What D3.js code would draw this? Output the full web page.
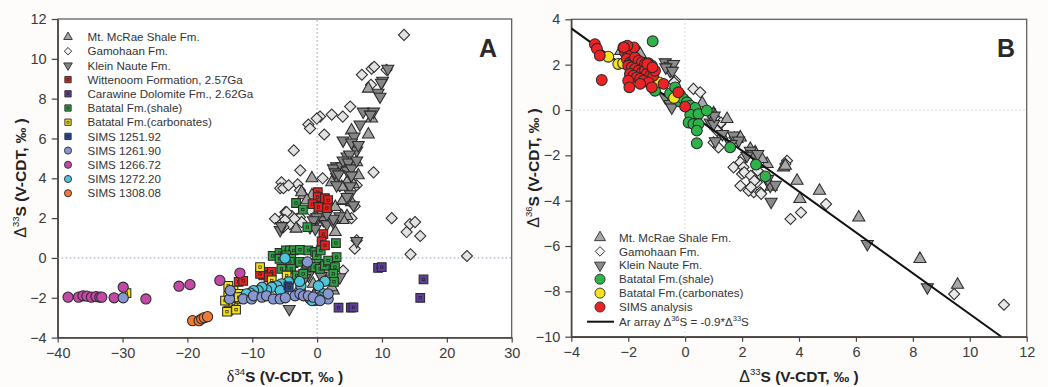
<!DOCTYPE html>
<html>
<head>
<meta charset="utf-8">
<script src="https://cdn.jsdelivr.net/npm/d3@7"></script>
<style>
  html, body { margin: 0; padding: 0; background: #fff; }
  svg { display: block; }
</style>
</head>
<body>
<svg id="chart" width="1048" height="387"></svg>
<script>
// ---------- Panel A: Δ33S vs δ34S ----------
const mcraeA = [[7.9,8.5],[8.4,7.0],[5.3,6.4],[7.9,6.2],[4.3,4.8],[4.8,4.9],[6.1,4.8],[-0.8,4.0],[4.6,3.8],[5.6,3.7],[-2.1,3.15],[-2.4,3.3],[-0.8,3.15],[-1.6,2.9],[2.8,2.56],[4.0,2.86],[-3.25,1.47],[3.8,2.1],[2.8,1.3],[6.35,4.15],[4.6,2.1],[4.0,1.9],[2.25,3.8],[3.8,3.57],[5.3,2.8],[4.0,2.9],[-0.6,-1.3],[0.2,-1.47],[-2.65,-1.47],[2.5,-1.64],[2.25,-1.47],[-0.5,-1.9],[1.0,-1.0],[-3.9,-0.3],[-2.0,-0.6],[1.5,-0.7]];
const kleinA = [[10.9,9.5],[10.1,8.9],[9.9,8.8],[9.4,8.3],[9.7,8.1],[7.1,7.35],[8.7,7.35],[8.2,7.2],[6.6,6.7],[5.7,6.1],[4.0,5.9],[5.8,5.6],[6.1,5.4],[4.6,5.1],[5.0,5.2],[3.0,4.6],[2.5,4.5],[3.8,4.6],[4.6,4.4],[3.0,4.07],[5.1,3.6],[5.3,5.8],[6.35,5.67],[4.0,4.9],[4.8,4.8],[5.3,4.5],[6.1,4.9],[2.75,4.3],[3.3,4.2],[5.3,4.15],[3.0,3.65],[5.1,3.2],[4.6,3.06],[5.6,2.65],[-0.06,1.9],[0.45,2.1],[0.96,1.9],[1.5,1.7],[2.5,1.8],[6.1,0.85],[3.5,2.1],[2.5,1.97],[1.5,2.2],[0.45,2.4],[-0.06,2.05],[-0.6,1.9],[-1.1,1.55],[-0.3,1.47],[-5.7,1.4],[-5.5,1.6],[-4.3,-2.56],[-1.35,-0.88],[3.5,-0.97],[-1.9,-1.0],[0.6,-0.9],[2.0,-0.3]];
const gamohaanA = [[13.4,11.2],[8.4,9.5],[6.9,9.2],[8.8,9.6],[10.7,9.45],[8.3,8.7],[5.1,7.6],[2.25,7.2],[3.95,7.1],[0.45,7.1],[-0.06,7.0],[-1.35,6.7],[-1.1,6.5],[1.1,6.2],[-3.6,5.4],[8.7,4.3],[-2.6,4.4],[0.85,4.0],[-5.5,3.8],[-5.7,3.5],[-5.2,3.5],[-3.0,3.7],[-2.65,3.4],[3.5,3.6],[6.1,3.65],[-4.4,3.65],[-1.1,2.4],[-4.9,2.3],[-3.9,2.1],[-5.5,1.9],[-4.2,1.7],[-3.1,1.97],[5.3,2.0],[5.8,2.6],[11.5,2.0],[14.3,1.7],[15.1,1.8],[13.8,1.3],[15.9,1.1],[5.8,0.46],[14.4,0.18],[23.1,0.1],[-2.65,2.05],[-2.4,1.8],[-3.5,1.97],[-4.7,2.3],[-4.95,1.9],[-5.2,1.55],[-6.5,1.97],[6.1,0.88],[4.0,-0.63]];
const wittenoomA = [[0.1,3.3],[0.1,3.06],[1.2,3.0],[1.7,2.9],[-0.7,2.7],[1.5,2.5],[0.2,2.56],[0.96,1.2],[0.7,0.83],[1.2,0.63],[-7.8,-0.7],[-8.3,-0.88],[-7.0,-0.7],[-7.5,-0.97],[-12.1,-1.2],[-11.4,-1.15],[-8.8,-0.8]];
const carawineA = [[9.4,-0.5],[9.96,-0.46],[16.4,-1.08],[15.9,-2.0],[3.3,-2.5],[5.2,-2.5],[5.6,-2.48]];
const batatalShaleA = [[-3.25,2.76],[-2.2,2.43],[-1.5,1.55],[2.9,0.75],[3.0,0.04],[-6.85,0.1],[-5.8,0.25],[-4.8,0.38],[-4.2,0.38],[-3.6,0.38],[-2.65,0.41],[-1.35,0.38],[-0.3,0.3],[-0.06,0.13],[0.55,0.38],[-5.8,-0.04],[-4.75,0.13],[-4.0,-0.04],[-2.65,-0.2],[-1.6,-0.3],[-0.6,-0.46],[0.2,-0.3],[-4.2,-0.2],[-5.5,-0.55],[-4.0,-0.55],[-3.15,-0.88],[-2.15,-0.8],[-0.3,-0.46],[0.45,-0.55],[1.2,-0.38],[1.7,-0.13],[2.75,-0.46],[2.5,-0.8],[2.6,-1.2]];
const batatalCarbA = [[-8.8,-0.46],[-7.0,-1.13],[-4.7,-0.88],[-6.5,-1.4],[-13.7,-1.4],[-12.9,-1.64],[-13.7,-1.9],[-13.2,-1.94],[-14.2,-2.14],[-12.9,-2.3],[-13.7,-2.64],[-12.5,-2.6],[-12.0,-1.8],[-11.9,-2.05],[-29.4,-1.77],[-12.1,-1.97],[-13.9,-2.7]];
const sims1251 = [[-4.5,-1.4],[-4.3,-1.5]];
const sims1261 = [[-11.4,-2.06],[-10.1,-2.06],[-9.8,-1.9],[-8.5,-1.97],[-7.8,-1.9],[-6.75,-2.06],[-5.7,-2.06],[-3.4,-1.9],[-2.65,-1.8],[-2.1,-1.9],[-1.35,-1.9],[-0.6,-1.97],[1.7,-2.06],[0.45,-2.14],[-13.5,-2.06],[-1.5,-0.2],[-29.9,-2.0],[-13.4,-1.64],[-4.9,-2.0],[1.7,-1.8]];
const sims1266 = [[-38.4,-1.97],[-36.8,-1.97],[-36.1,-1.9],[-35.5,-1.92],[-34.8,-1.97],[-34.1,-1.94],[-33.5,-1.97],[-33.2,-1.97],[-31.3,-2.0],[-29.9,-1.47],[-26.4,-2.06],[-21.3,-1.42],[-19.6,-1.34],[-15.0,-1.13],[-11.9,-0.76]];
const sims1272 = [[-4.95,-0.01],[1.2,-1.17],[0.2,-1.4],[1.06,-1.8],[-4.4,-1.2],[-5.5,-1.3],[-6.2,-1.4],[-7.0,-1.47],[-7.8,-1.6],[-8.5,-1.47],[-9.1,-1.64],[-9.8,-1.64],[-10.3,-1.77],[-10.9,-1.8],[-1.1,-2.05],[-0.3,-2.14],[0.45,-1.97],[-5.2,-1.8],[-5.7,-1.64],[-2.5,-1.4],[-2.7,-1.18],[0.2,-2.06],[-0.8,-2.14]];
const sims1308 = [[-19.2,-3.15],[-18.2,-3.15],[-17.8,-3.06],[-17.4,-3.0],[-16.9,-2.95]];

const xTicksA = [-40,-30,-20,-10,0,10,20,30];
const yTicksA = [-4,-2,0,2,4,6,8,10,12];

// ---------- Panel B: Δ36S vs Δ33S ----------
const mcraeB = [[-2.26,2.6],[-1.62,2.51],[-1.58,2.47],[1.0,-0.15],[1.47,-0.4],[1.29,-1.13],[1.82,-1.28],[1.94,-1.21],[2.29,-1.72],[2.46,-1.87],[2.88,-2.38],[2.7,-2.16],[3.46,-2.53],[3.52,-2.46],[3.93,-3.12],[4.03,-3.93],[4.72,-3.56],[6.1,-4.74],[8.25,-6.57],[9.57,-7.71],[3.02,-3.38],[0.6,0.3]];
const kleinB = [[-0.7,2.1],[-0.53,1.95],[-0.41,2.03],[-0.53,1.73],[-0.68,1.88],[-0.45,1.73],[-0.7,0.56],[-0.53,0.26],[-0.47,0.11],[0.88,-0.55],[1.0,-0.62],[1.06,-1.38],[1.7,-1.13],[1.88,-1.35],[2.29,-1.8],[2.4,-1.94],[2.17,-2.02],[2.99,-3.34],[3.17,-3.3],[3.02,-4.05],[6.4,-5.91],[8.51,-7.82],[0.85,-0.1],[1.02,-0.25],[1.31,-1.06],[1.61,-1.5],[2.55,-1.94],[2.9,-3.04]];
const gamohaanB = [[-0.35,1.29],[0.29,0.93],[0.53,0.78],[1.23,-0.62],[1.12,-0.91],[1.0,-1.43],[1.17,-1.65],[2.05,-2.09],[1.94,-2.31],[1.7,-2.53],[2.05,-2.53],[2.0,-2.82],[1.94,-3.34],[2.35,-3.34],[2.52,-3.19],[2.41,-3.63],[2.64,-3.63],[2.23,-3.56],[3.58,-2.24],[3.52,-2.38],[3.7,-4.81],[4.07,-4.52],[4.95,-4.15],[9.45,-8.12],[11.2,-8.59],[-0.39,1.22],[1.26,-0.55],[1.73,-1.21],[2.08,-2.75],[2.31,-2.9],[2.43,-3.12],[2.55,-2.68],[2.31,-3.41],[2.67,-3.7]];
const batatalShaleB = [[-1.14,3.03],[-1.06,0.85],[-0.53,0.73],[-0.35,1.0],[-0.18,0.67],[-0.18,0.37],[-0.06,0.49],[0.06,0.34],[0.18,0.19],[0.35,0.09],[0.18,-0.21],[0.47,-0.18],[0.76,-0.03],[0.12,-0.55],[0.29,-0.62],[0.47,-0.62],[0.41,-0.91],[0.41,-1.47],[1.58,-1.65],[2.49,-2.41],[2.82,-2.93]];
const batatalCarbB = [[-2.7,2.35],[-2.35,2.03],[-2.18,2.06],[-0.92,1.22],[-0.39,0.53]];
const simsB = [[-3.17,2.9],[-3.1,2.7],[-3.0,2.4],[-2.93,1.32],[-2.17,2.76],[-2.05,2.79],[-1.94,2.69],[-2.11,2.54],[-2.0,2.4],[-1.88,2.47],[-2.05,2.25],[-1.94,2.1],[-1.82,2.17],[-1.76,2.32],[-1.64,2.17],[-1.52,2.1],[-1.41,2.03],[-1.29,2.06],[-1.17,1.95],[-2.0,1.95],[-1.88,1.88],[-1.76,1.81],[-1.64,1.73],[-1.52,1.66],[-1.41,1.76],[-1.35,1.59],[-1.23,1.51],[-1.12,1.51],[-1.94,1.59],[-1.82,1.51],[-1.7,1.44],[-1.58,1.37],[-1.47,1.29],[-1.29,1.22],[-1.17,1.0],[-2.0,1.29],[-1.96,1.0],[-1.58,1.15],[-0.76,1.15],[-0.24,0.78],[0.0,0.15],[-1.06,1.73],[-1.8,2.76],[-2.03,2.84],[-2.15,2.76],[-1.33,2.03],[-1.15,1.88]];

const xTicksB = [-4,-2,0,2,4,6,8,10,12];
const yTicksB = [-10,-8,-6,-4,-2,0,2,4];
const arSlope = -0.9;   // Δ36S = -0.9 * Δ33S

// ---------- drawing ----------
const sans = "Arial, 'Liberation Sans', Helvetica, sans-serif";
const serif = "'Liberation Serif', 'DejaVu Serif', Times, serif";
const svg = d3.select("#chart");
svg.append("rect").attr("width", 1048).attr("height", 387).attr("fill", "#fdfcfb");

const STROKE = "#2a2a2a";
const shapes = {
  up:      (s) => d3.symbol().type(d3.symbolTriangle).size(s)(),
  down:    (s) => d3.symbol().type(d3.symbolTriangle).size(s)(),
  diamond: (s) => d3.symbol().type(d3.symbolSquare).size(s)(),
  square:  (s) => d3.symbol().type(d3.symbolSquare).size(s)(),
  circle:  (s) => d3.symbol().type(d3.symbolCircle).size(s)()
};
const rot = { up: 0, down: 180, diamond: 45, square: 0, circle: 0 };

function marks(g, data, x, y, shape, fill, size) {
  const sel = g.append("g").selectAll("g").data(data).join("g")
    .attr("transform", d => `translate(${x(d[0])},${y(d[1])}) rotate(${rot[shape]})`);
  sel.append("path").attr("d", shapes[shape](size))
    .attr("fill", fill).attr("stroke", STROKE).attr("stroke-width", 1.05);
  if (shape === "square") {
    sel.append("rect").attr("x", -1.2).attr("y", -1.2).attr("width", 2.4).attr("height", 2.4)
      .attr("fill", "none").attr("stroke", "#222").attr("stroke-width", 0.7);
  }
}

function frame(g, x, y, xt, yt) {
  const [x0, x1] = x.range(), [y0, y1] = y.range();
  g.append("rect").attr("x", x0).attr("y", y1).attr("width", x1 - x0).attr("height", y0 - y1)
    .attr("fill", "#ffffff").attr("stroke", "#555").attr("stroke-width", 1.2);
  const ax = g.append("g").attr("transform", `translate(0,${y0})`)
    .call(d3.axisBottom(x).tickValues(xt).tickSize(5).tickPadding(5).tickSizeOuter(0));
  const ay = g.append("g").attr("transform", `translate(${x0},0)`)
    .call(d3.axisLeft(y).tickValues(yt).tickSize(6).tickPadding(5).tickSizeOuter(0));
  [ax, ay].forEach(a => {
    a.select(".domain").attr("stroke", "#4a3f3c").attr("stroke-width", 1.4);
    a.selectAll(".tick line").attr("stroke", "#444").attr("stroke-width", 1.2);
    a.selectAll(".tick text").attr("font-family", sans).attr("font-size", 14.5).attr("fill", "#3a3a3a");
  });
}

function refLines(g, x, y, color) {
  g.append("line").attr("x1", x(0)).attr("x2", x(0)).attr("y1", y.range()[0]).attr("y2", y.range()[1])
    .attr("stroke", color).attr("stroke-width", 1).attr("stroke-dasharray", "1.5,2.5");
  g.append("line").attr("x1", x.range()[0]).attr("x2", x.range()[1]).attr("y1", y(0)).attr("y2", y(0))
    .attr("stroke", color).attr("stroke-width", 1).attr("stroke-dasharray", "1.5,2.5");
}

function axisTitle(g, cx, cy, angle, sym, symFont, sup, rest) {
  const t = g.append("text").attr("transform", `translate(${cx},${cy}) rotate(${angle})`)
    .attr("text-anchor", "middle").attr("font-family", sans).attr("font-weight", "bold")
    .attr("font-size", 15.5).attr("fill", "#222");
  t.append("tspan").attr("font-family", symFont).attr("font-weight", "normal").attr("font-size", 16).text(sym);
  t.append("tspan").attr("font-size", 9.5).attr("font-weight", "normal").attr("dy", -7).text(sup);
  t.append("tspan").attr("dy", 7).text(rest);
}

// ===== Panel A =====
const xA = d3.scaleLinear().domain([-40, 30]).range([57.7, 511.7]);
const yA = d3.scaleLinear().domain([-4, 12]).range([337.6, 19]);
const gA = svg.append("g");
frame(gA, xA, yA, xTicksA, yTicksA);
refLines(gA, xA, yA, "#7f9cb8");

marks(gA, gamohaanA, xA, yA, "diamond", "#e2e2e2", 62);
marks(gA, mcraeA, xA, yA, "up", "#a3a3a3", 62);
marks(gA, kleinA, xA, yA, "down", "#858585", 62);
marks(gA, batatalShaleA, xA, yA, "square", "#2f9e44", 76);
marks(gA, wittenoomA, xA, yA, "square", "#e8231f", 76);
marks(gA, carawineA, xA, yA, "square", "#5f3f9e", 76);
marks(gA, batatalCarbA, xA, yA, "square", "#f3e01f", 76);
marks(gA, sims1266, xA, yA, "circle", "#c24aa6", 82);
marks(gA, sims1272, xA, yA, "circle", "#4fc3d9", 82);
marks(gA, sims1261, xA, yA, "circle", "#8797d1", 82);
marks(gA, sims1308, xA, yA, "circle", "#f07a36", 82);
marks(gA, sims1251, xA, yA, "square", "#2b4a9c", 60);

const legendA = [
  ["Mt. McRae Shale Fm.", "up", "#a3a3a3", 32],
  ["Gamohaan Fm.", "diamond", "#f2f2f2", 28],
  ["Klein Naute Fm.", "down", "#858585", 32],
  ["Wittenoom Formation, 2.57Ga", "square", "#e8231f", 40],
  ["Carawine Dolomite Fm., 2.62Ga", "square", "#5f3f9e", 40],
  ["Batatal Fm.(shale)", "square", "#2f9e44", 40],
  ["Batatal Fm.(carbonates)", "square", "#f3e01f", 40],
  ["SIMS 1251.92", "square", "#2b4a9c", 40],
  ["SIMS 1261.90", "circle", "#8797d1", 40],
  ["SIMS 1266.72", "circle", "#c24aa6", 40],
  ["SIMS 1272.20", "circle", "#4fc3d9", 40],
  ["SIMS 1308.08", "circle", "#f07a36", 40]
];
legendA.forEach((d, i) => {
  const yy = 37 + i * 14.2;
  const g = gA.append("g").attr("transform", `translate(68,${yy}) rotate(${rot[d[1]]})`);
  g.append("path").attr("d", shapes[d[1]](d[3])).attr("fill", d[2]).attr("stroke", STROKE).attr("stroke-width", 0.9);
  if (d[1] === "square") g.append("rect").attr("x", -1).attr("y", -1).attr("width", 2).attr("height", 2)
    .attr("fill", "none").attr("stroke", "#222").attr("stroke-width", 0.6);
  gA.append("text").attr("x", 87.5).attr("y", yy).attr("dy", "0.36em")
    .attr("font-family", sans).attr("font-size", 11.6).attr("fill", "#333").text(d[0]);
});

gA.append("text").attr("x", 497).attr("y", 57).attr("text-anchor", "end")
  .attr("font-family", sans).attr("font-weight", "bold").attr("font-size", 25).attr("fill", "#2a2a2a").text("A");

axisTitle(gA, 285, 382, 0, "δ", serif, "34", "S (V-CDT, ‰ )");
axisTitle(gA, 26, 178, -90, "Δ", sans, "33", "S (V-CDT, ‰ )");

// ===== Panel B =====
const xB = d3.scaleLinear().domain([-4, 12]).range([571.3, 1026.7]);
const yB = d3.scaleLinear().domain([-10, 4]).range([336.7, 19.3]);
const gB = svg.append("g");
frame(gB, xB, yB, xTicksB, yTicksB);
refLines(gB, xB, yB, "#c3d6e8");

gB.append("clipPath").attr("id", "clipB").append("rect")
  .attr("x", xB.range()[0]).attr("y", yB.range()[1])
  .attr("width", xB.range()[1] - xB.range()[0]).attr("height", yB.range()[0] - yB.range()[1]);

marks(gB, gamohaanB, xB, yB, "diamond", "#e8e8e8", 62);
marks(gB, mcraeB, xB, yB, "up", "#a8a8a8", 64);
marks(gB, kleinB, xB, yB, "down", "#8a8a8a", 64);

// Ar array reference line, limited to the plotted Δ36S range
const arX = [xB.domain()[0], yB.domain()[0] / arSlope];
gB.append("path").attr("clip-path", "url(#clipB)")
  .datum(arX.map(v => [v, arSlope * v]))
  .attr("d", d3.line().x(d => xB(d[0])).y(d => yB(d[1])))
  .attr("fill", "none").attr("stroke", "#111").attr("stroke-width", 2);

marks(gB, batatalShaleB, xB, yB, "circle", "#2db34a", 92);
marks(gB, batatalCarbB, xB, yB, "circle", "#f6e31c", 92);
marks(gB, simsB, xB, yB, "circle", "#ec2224", 92);

const legendB = [
  ["Mt. McRae Shale Fm.", "up", "#a8a8a8", 52],
  ["Gamohaan Fm.", "diamond", "#f2f2f2", 46],
  ["Klein Naute Fm.", "down", "#8a8a8a", 52],
  ["Batatal Fm.(shale)", "circle", "#2db34a", 80],
  ["Batatal Fm.(carbonates)", "circle", "#f6e31c", 80],
  ["SIMS analysis", "circle", "#ec2224", 80]
];
legendB.forEach((d, i) => {
  const yy = 237.5 + i * 13.9;
  const g = gB.append("g").attr("transform", `translate(600,${yy}) rotate(${rot[d[1]]})`);
  g.append("path").attr("d", shapes[d[1]](d[3])).attr("fill", d[2]).attr("stroke", STROKE).attr("stroke-width", 0.9);
  gB.append("text").attr("x", 619).attr("y", yy).attr("dy", "0.36em")
    .attr("font-family", sans).attr("font-size", 11.6).attr("fill", "#333").text(d[0]);
});
const yLine = 237.5 + 6 * 13.9 + 0.8;
gB.append("line").attr("x1", 587).attr("x2", 614).attr("y1", yLine).attr("y2", yLine)
  .attr("stroke", "#111").attr("stroke-width", 2);
const lt = gB.append("text").attr("x", 619).attr("y", yLine).attr("dy", "0.36em")
  .attr("font-family", sans).attr("font-size", 11.6).attr("fill", "#333");
lt.append("tspan").text("Ar array  Δ");
lt.append("tspan").attr("font-size", 7.5).attr("dy", -5).text("36");
lt.append("tspan").attr("dy", 5).text("S = -0.9*Δ");
lt.append("tspan").attr("font-size", 7.5).attr("dy", -5).text("33");
lt.append("tspan").attr("dy", 5).text("S");

gB.append("text").attr("x", 1015).attr("y", 57).attr("text-anchor", "end")
  .attr("font-family", sans).attr("font-weight", "bold").attr("font-size", 25).attr("fill", "#2a2a2a").text("B");

axisTitle(gB, 799, 382, 0, "Δ", sans, "33", "S (V-CDT, ‰ )");
axisTitle(gB, 539, 168, -90, "Δ", sans, "36", "S (V-CDT, ‰ )");
</script>
</body>
</html>
